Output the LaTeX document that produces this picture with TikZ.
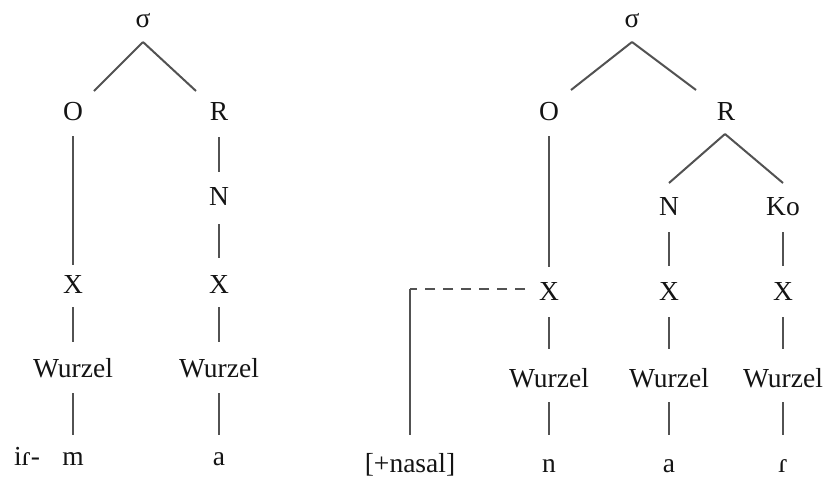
\documentclass[tikz,border=0pt]{standalone}
\usepackage{fontspec}
\setmainfont{Liberation Serif}
\begin{document}
\begin{tikzpicture}[x=1pt,y=-1pt,
  lab/.style={anchor=base,inner sep=0pt,text=black!92,font=\fontsize{27.5}{32}\selectfont},
  edge/.style={draw=black!68,line width=2pt},
  dashedge/.style={draw=black!68,line width=2pt,dash pattern=on 10pt off 8pt}]
\useasboundingbox (0,0) rectangle (827,477);
% ---------- left tree ----------
\node[lab] (Ls) at (143,27) {σ};
\node[lab] (LO) at (73,120) {O};
\node[lab] (LR) at (219,120) {R};
\node[lab] (LN) at (219,205) {N};
\node[lab] (LX1) at (73,293) {X};
\node[lab] (LX2) at (219,293) {X};
\node[lab] (LW1) at (73,377) {Wurzel};
\node[lab] (LW2) at (219,377) {Wurzel};
\node[lab] (Lir) at (27,465) {iɾ-};
\node[lab] (Lm) at (73,465) {m};
\node[lab] (La) at (219,465) {a};
\draw[edge] ([yshift=-15pt]Ls.base) -- ([xshift=21pt,yshift=29pt]LO.base);
\draw[edge] ([yshift=-15pt]Ls.base) -- ([xshift=-23pt,yshift=29pt]LR.base);
\draw[edge] ([yshift=-16pt]LO.base) -- ([yshift=28pt]LX1.base);
\draw[edge] ([yshift=-17pt]LR.base) -- ([yshift=33pt]LN.base);
\draw[edge] ([yshift=-19pt]LN.base) -- ([yshift=35pt]LX2.base);
\draw[edge] ([yshift=-14pt]LX1.base) -- ([yshift=35pt]LW1.base);
\draw[edge] ([yshift=-14pt]LX2.base) -- ([yshift=35pt]LW2.base);
\draw[edge] ([yshift=-16pt]LW1.base) -- ([yshift=30pt]Lm.base);
\draw[edge] ([yshift=-16pt]LW2.base) -- ([yshift=30pt]La.base);
% ---------- right tree ----------
\node[lab] (Rs) at (632,27) {σ};
\node[lab] (RO) at (549,120) {O};
\node[lab] (RR) at (726,120) {R};
\node[lab] (RN) at (669,215) {N};
\node[lab] (RK) at (783,215) {Ko};
\node[lab] (RX1) at (549,300) {X};
\node[lab] (RX2) at (669,300) {X};
\node[lab] (RX3) at (783,300) {X};
\node[lab] (RW1) at (549,387) {Wurzel};
\node[lab] (RW2) at (669,387) {Wurzel};
\node[lab] (RW3) at (783,387) {Wurzel};
\node[lab] (Rnas) at (410,472) {[+nasal]};
\node[lab] (Rn) at (549,472) {n};
\node[lab] (Ra) at (669,472) {a};
\node[lab] (Rr) at (783,472) {ɾ};
\coordinate (corner) at (410,289);
\draw[edge] ([yshift=-15pt]Rs.base) -- ([xshift=22pt,yshift=30pt]RO.base);
\draw[edge] ([yshift=-15pt]Rs.base) -- ([xshift=-30pt,yshift=30pt]RR.base);
\draw[edge] ([xshift=-1pt,yshift=-14pt]RR.base) -- ([yshift=32pt]RN.base);
\draw[edge] ([xshift=-1pt,yshift=-14pt]RR.base) -- ([yshift=32pt]RK.base);
\draw[edge] ([yshift=-16pt]RO.base) -- ([yshift=33pt]RX1.base);
\draw[edge] ([yshift=-17pt]RN.base) -- ([yshift=34pt]RX2.base);
\draw[edge] ([yshift=-17pt]RK.base) -- ([yshift=34pt]RX3.base);
\draw[edge] ([yshift=-17pt]RX1.base) -- ([yshift=38pt]RW1.base);
\draw[edge] ([yshift=-17pt]RX2.base) -- ([yshift=38pt]RW2.base);
\draw[edge] ([yshift=-17pt]RX3.base) -- ([yshift=38pt]RW3.base);
\draw[edge] ([yshift=-15pt]RW1.base) -- ([yshift=37pt]Rn.base);
\draw[edge] ([yshift=-15pt]RW2.base) -- ([yshift=37pt]Ra.base);
\draw[edge] ([yshift=-15pt]RW3.base) -- ([yshift=37pt]Rr.base);
\draw[dashedge] ([xshift=-24pt,yshift=11pt]RX1.base) -- (corner);
\draw[edge] (corner) -- ([yshift=37pt]Rnas.base);
\end{tikzpicture}
\end{document}
